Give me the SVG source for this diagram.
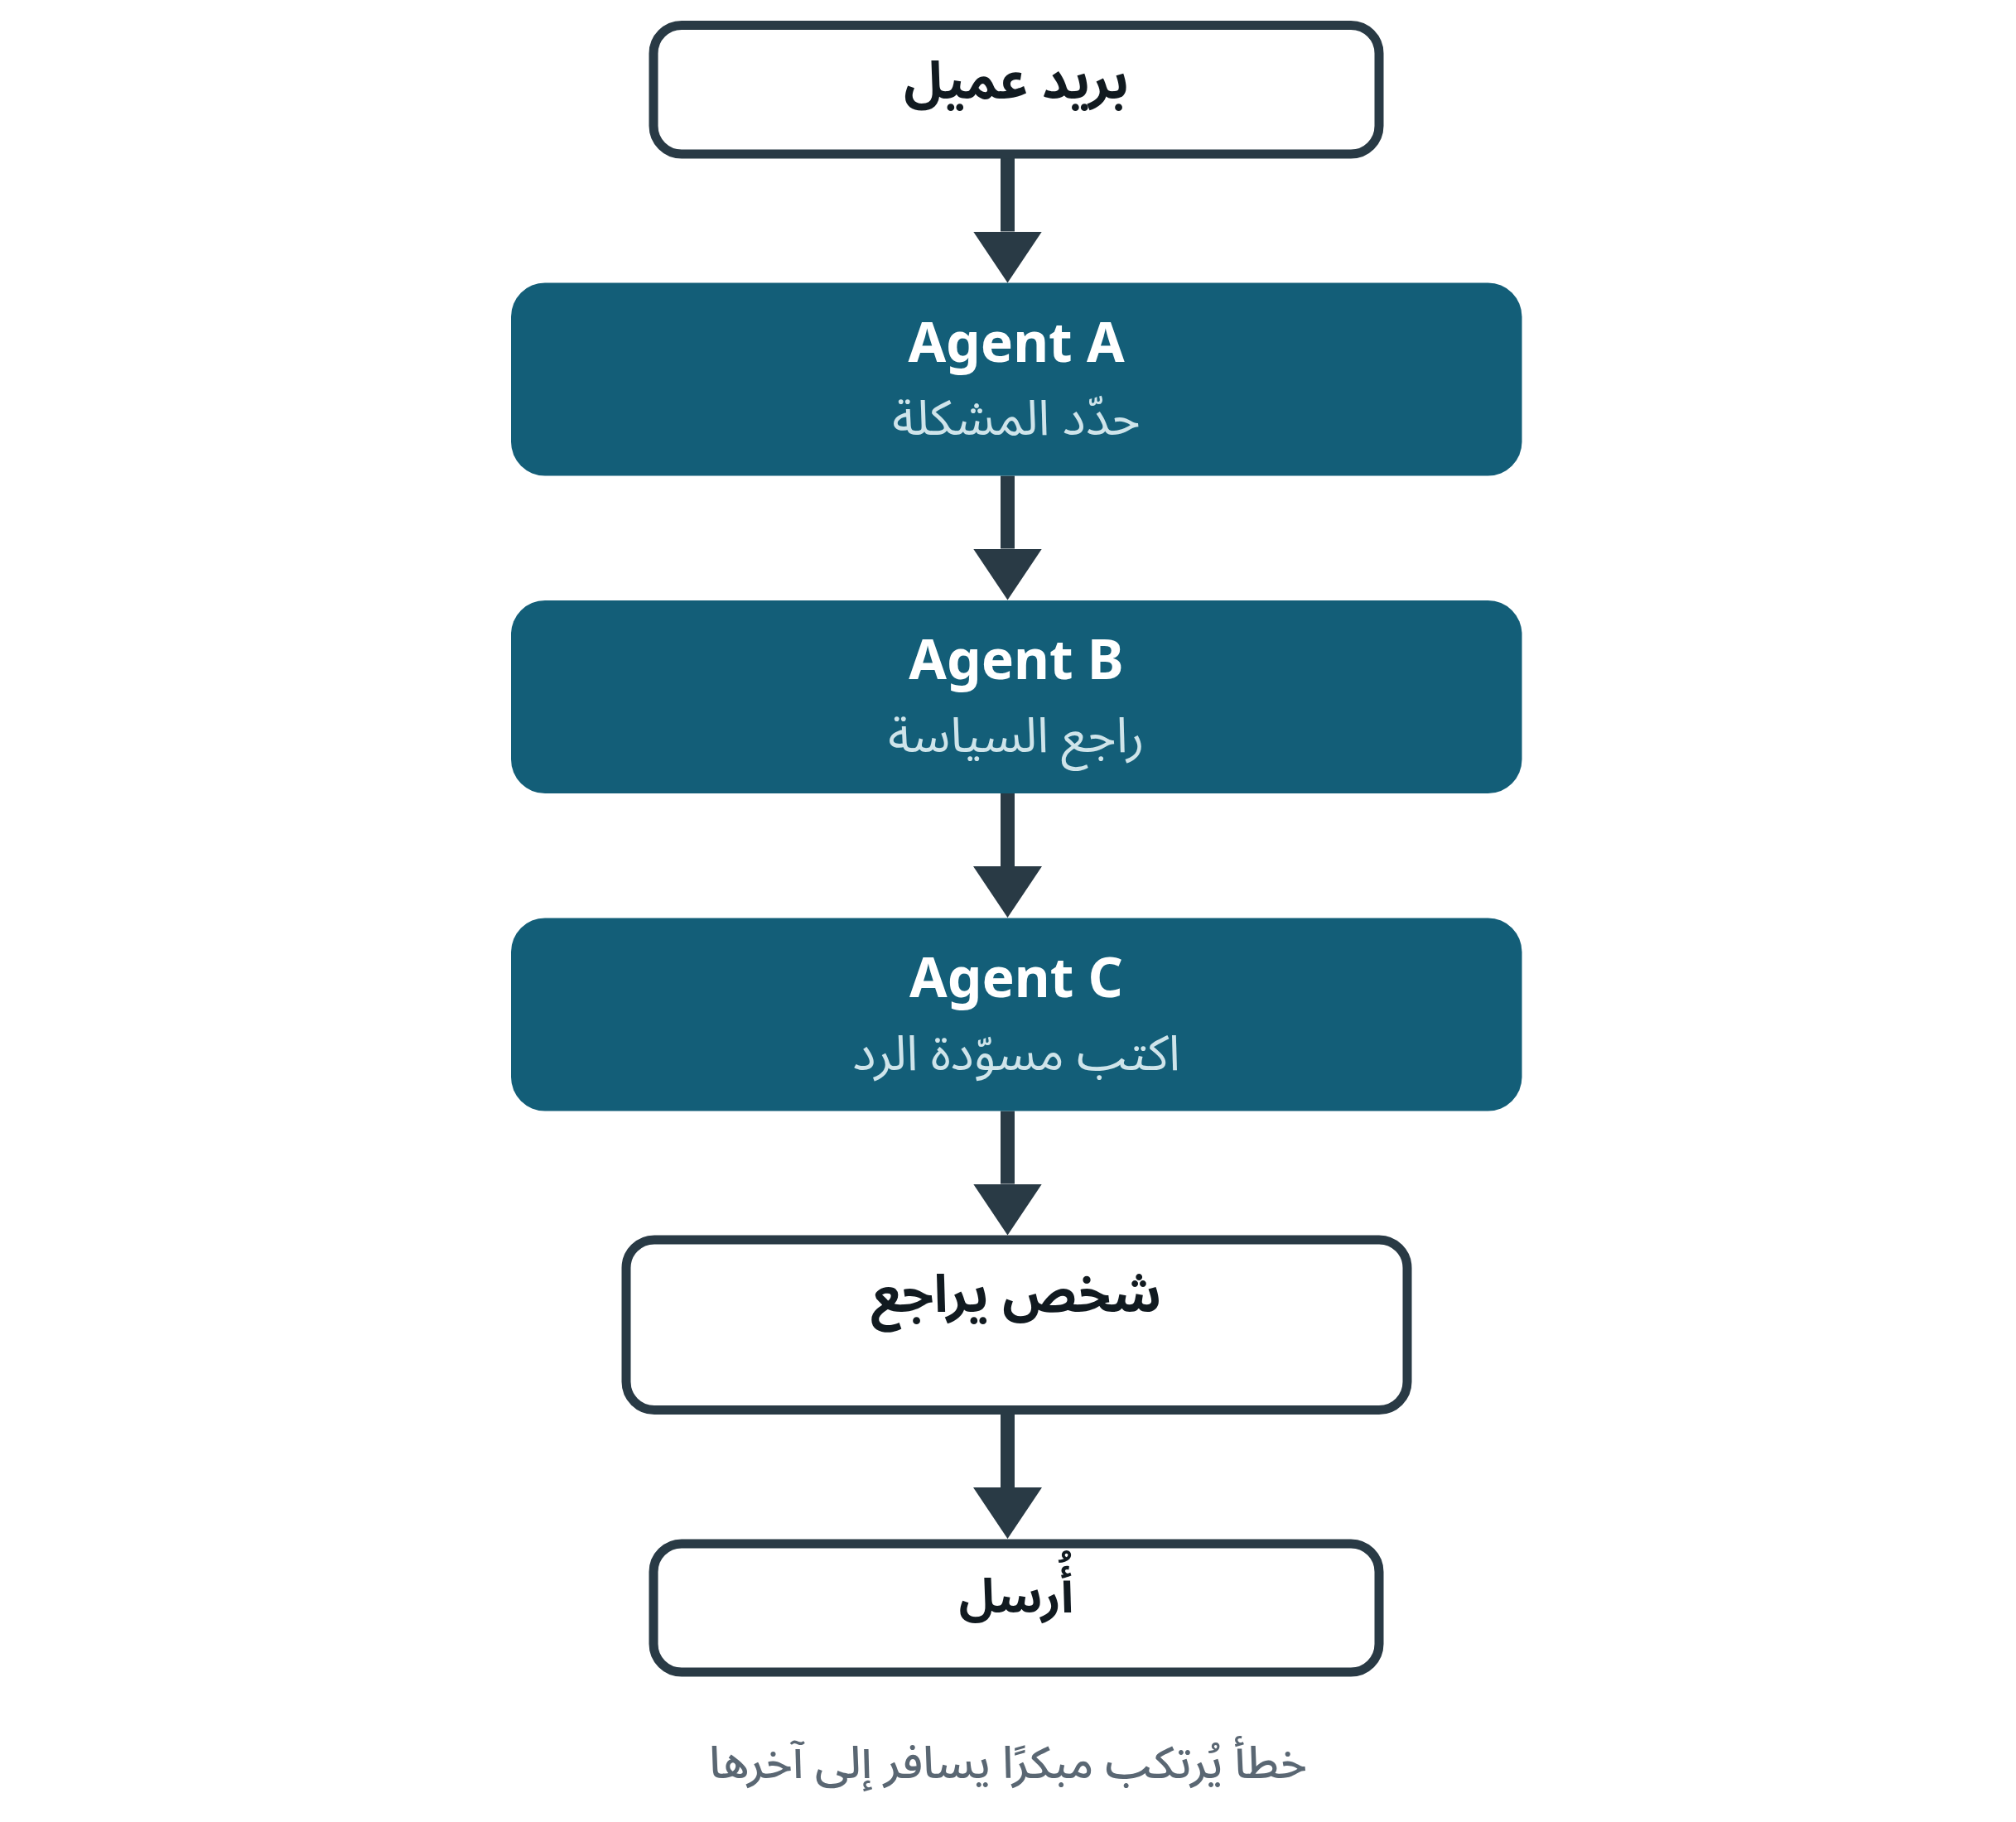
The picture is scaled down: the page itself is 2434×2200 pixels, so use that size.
<svg xmlns="http://www.w3.org/2000/svg" width="2434" height="2200" viewBox="0 0 2434 2200">
<style>
.bg{fill:#ffffff}
.plain{fill:#ffffff;stroke:#293a45;stroke-width:11}
.agent{fill:#135e78}
.edge{stroke:#293a45;stroke-width:17;stroke-linecap:butt;fill:none}
.ttl{font-family:"Noto Sans Arabic","Noto Sans","DejaVu Sans",sans-serif;font-weight:700;font-size:63px;fill:#111a20;text-anchor:middle}
.agt{font-family:"Noto Sans","Open Sans","DejaVu Sans",sans-serif;font-weight:700;font-size:66px;fill:#ffffff;text-anchor:middle}
.sub{font-family:"Noto Sans Arabic","Noto Sans","DejaVu Sans",sans-serif;font-weight:400;font-size:59px;fill:#cfe4ea;text-anchor:middle}
.cap{font-family:"Noto Sans Arabic","Noto Sans","DejaVu Sans",sans-serif;font-weight:500;font-size:54px;fill:#5a6773;text-anchor:middle}
</style>
<defs>
<marker id="head" markerUnits="userSpaceOnUse" viewBox="0 -41.5 62 83" markerWidth="62" markerHeight="83" refX="0" refY="0" orient="auto">
<path d="M0,-41.5 L62,0 L0,41.5 Z" fill="#293a45"/>
</marker>
</defs>
<rect class="bg" x="0" y="0" width="2434" height="2200"/>
<g id="connectors">
<line class="edge" x1="1216.5" y1="191" x2="1216.5" y2="279.5" marker-end="url(#head)"/>
<line class="edge" x1="1216.5" y1="574.5" x2="1216.5" y2="662.5" marker-end="url(#head)"/>
<line class="edge" x1="1216.5" y1="958" x2="1216.5" y2="1046" marker-end="url(#head)"/>
<line class="edge" x1="1216.5" y1="1341.5" x2="1216.5" y2="1429.5" marker-end="url(#head)"/>
<line class="edge" x1="1216.5" y1="1708" x2="1216.5" y2="1796" marker-end="url(#head)"/>
</g>
<g id="email">
<rect class="plain" x="789" y="30.5" width="876" height="155.5" rx="34"/>
<text class="ttl" x="1227" y="119" direction="rtl">بريد عميل</text>
</g>
<g id="agentA">
<rect class="agent" x="617" y="341.5" width="1220.5" height="233" rx="41"/>
<text class="agt" x="1227" y="436.5">Agent A</text>
<text class="sub" x="1227" y="524.5" direction="rtl">حدّد المشكلة</text>
</g>
<g id="agentB">
<rect class="agent" x="617" y="725" width="1220.5" height="233" rx="41"/>
<text class="agt" x="1227" y="820">Agent B</text>
<text class="sub" x="1227" y="908" direction="rtl">راجع السياسة</text>
</g>
<g id="agentC">
<rect class="agent" x="617" y="1108.5" width="1220.5" height="233" rx="41"/>
<text class="agt" x="1227" y="1203.5">Agent C</text>
<text class="sub" x="1227" y="1291.5" direction="rtl">اكتب مسوّدة الرد</text>
</g>
<g id="human">
<rect class="plain" x="756" y="1497" width="943" height="205.5" rx="34"/>
<text class="ttl" x="1227" y="1584" direction="rtl">شخص يراجع</text>
</g>
<g id="send">
<rect class="plain" x="789" y="1864" width="876" height="155" rx="34"/>
<text class="ttl" x="1227" y="1947" direction="rtl" style="font-size:58px">أُرسل</text>
</g>
<text class="cap" x="1217" y="2147" direction="rtl">خطأ يُرتكب مبكرًا يسافر إلى آخرها</text>
</svg>
